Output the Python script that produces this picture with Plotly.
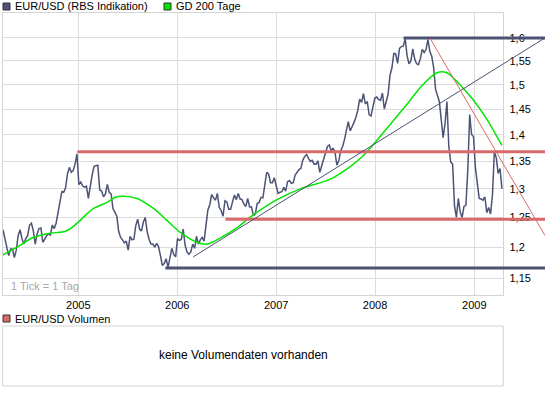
import plotly.graph_objects as go
import pandas as pd
import numpy as np

W, H = 545, 395

# ---------------- data ----------------
price_start = "2004-03-29"   # weekly values from here on
price_2004 = [1.229,
              1.213, 1.199, 1.186, 1.197,
              1.197, 1.183, 1.195, 1.219, 1.229,
              1.214, 1.205, 1.214, 1.219,
              1.237, 1.240, 1.227, 1.205,
              1.222, 1.231, 1.232, 1.208, 1.213,
              1.219, 1.222, 1.220, 1.237,
              1.231, 1.240, 1.255, 1.276,
              1.295, 1.294, 1.302, 1.327, 1.339,
              1.330, 1.333, 1.345, 1.364]
price_2005 = [1.308, 1.312, 1.305, 1.303, 1.305,
              1.283, 1.307, 1.325, 1.341,
              1.342, 1.343, 1.298, 1.296,
              1.286, 1.291, 1.308, 1.294,
              1.291, 1.265, 1.259, 1.252, 1.226,
              1.216, 1.212, 1.207, 1.210,
              1.195, 1.218, 1.212, 1.213,
              1.236, 1.247, 1.230, 1.227, 1.242,
              1.250, 1.226, 1.213, 1.205,
              1.205, 1.200, 1.206, 1.201, 1.186,
              1.170, 1.173, 1.181, 1.167,
              1.180, 1.198, 1.188, 1.184]
price_2006 = [1.214, 1.211, 1.213, 1.230, 1.203,
              1.192, 1.188, 1.192, 1.205,
              1.198, 1.218, 1.205, 1.212,
              1.216, 1.210, 1.233, 1.263,
              1.272, 1.290, 1.284, 1.280, 1.292,
              1.267, 1.262, 1.252, 1.279,
              1.277, 1.264, 1.264, 1.277, 1.289,
              1.281, 1.292, 1.282, 1.281,
              1.273, 1.269, 1.283, 1.268,
              1.268, 1.253, 1.256, 1.274, 1.276,
              1.285, 1.284, 1.311, 1.330,
              1.327, 1.311, 1.311, 1.320]
price_2007 = [1.306, 1.292, 1.294, 1.295, 1.303,
              1.296, 1.313, 1.315, 1.310,
              1.311, 1.325, 1.331, 1.335,
              1.337, 1.352, 1.359, 1.363, 1.356,
              1.350, 1.352, 1.345, 1.345,
              1.351, 1.330, 1.342, 1.354,
              1.362, 1.378, 1.381, 1.370, 1.375,
              1.367, 1.343, 1.351, 1.370,
              1.378, 1.391, 1.406, 1.426,
              1.408, 1.418, 1.424, 1.434, 1.448,
              1.471, 1.464, 1.482, 1.461,
              1.466, 1.440, 1.437, 1.457, 1.473]
price_2008 = [1.475, 1.470, 1.468, 1.483,
              1.451, 1.468, 1.481, 1.520,
              1.535, 1.566, 1.565, 1.545, 1.577,
              1.581, 1.582, 1.598, 1.561,
              1.544, 1.550, 1.576, 1.554,
              1.544, 1.542, 1.555, 1.575, 1.568,
              1.575, 1.596, 1.570, 1.560,
              1.536, 1.491, 1.477, 1.466,
              1.430, 1.395, 1.422, 1.466, 1.378,
              1.349, 1.345, 1.270, 1.250,
              1.283, 1.259, 1.250, 1.269,
              1.271, 1.334, 1.440, 1.401, 1.397]
price_2009 = [1.339, 1.315, 1.283, 1.282,
              1.280, 1.286, 1.258, 1.267,
              1.256, 1.289, 1.368, 1.357, 1.328,
              1.337, 1.300]

ma_dates = ["2004-03-28", "2004-05-20", "2004-07-18", "2004-09-19", "2004-11-13",
            "2004-12-09", "2005-01-08", "2005-02-25", "2005-04-17", "2005-05-17",
            "2005-06-16", "2005-08-06", "2005-10-04", "2005-11-24", "2006-01-11",
            "2006-03-15", "2006-04-21", "2006-06-08", "2006-08-09", "2006-09-26",
            "2007-01-01", "2007-03-31", "2007-07-18", "2007-09-30", "2007-11-17",
            "2008-01-08", "2008-02-25", "2008-04-27", "2008-06-25", "2008-08-16",
            "2008-09-22", "2008-11-09", "2008-12-27", "2009-02-17", "2009-04-13"]
ma_values = [1.187, 1.200, 1.216, 1.223, 1.226,
             1.233, 1.245, 1.265, 1.276, 1.285,
             1.287, 1.283, 1.266, 1.245, 1.225,
             1.208, 1.205, 1.215, 1.232, 1.250,
             1.280, 1.300, 1.317, 1.340, 1.360,
             1.390, 1.420, 1.460, 1.500, 1.525,
             1.525, 1.500, 1.470, 1.430, 1.380]

# horizontal support / resistance lines (start date, level)
red_level_starts = ["2004-12-28", "2006-06-28"]
red_level_values = [1.368, 1.247]
blue_level_starts = ["2005-11-18", "2008-04-15"]
blue_level_values = [1.166, 1.600]
# trend lines
blue_trend_dates = ["2006-03-01", "2009-09-19"]
blue_trend_values = [1.184, 1.600]
red_trend_dates = ["2008-07-22", "2009-09-19"]
red_trend_values = [1.599, 1.219]

year_ticks = ["2005-01-01", "2006-01-01", "2007-01-01", "2008-01-01", "2009-01-01"]
year_labels = ["2005", "2006", "2007", "2008", "2009"]
y_ticks = [1.15, 1.2, 1.25, 1.3, 1.35, 1.4, 1.45, 1.5, 1.55, 1.6]
y_labels = ["1,15", "1,2", "1,25", "1,3", "1,35", "1,4", "1,45", "1,5", "1,55", "1,6"]

# ---------------- geometry ----------------
FONT = "Liberation Sans"
PLOT_L, PLOT_R, PLOT_T, PLOT_B = 2.7, 503.3, 13.3, 295.0
x_start = pd.Timestamp("2004-03-28")
x_end = pd.Timestamp("2009-04-18")
x2_end = x_start + (x_end - x_start) * ((W - PLOT_L) / (PLOT_R - PLOT_L))
y_range = [float(np.log10(1.1235)), float(np.log10(1.655))]


def px(x):
    return x / W


def py(y):
    return 1 - y / H


price_values = price_2004 + price_2005 + price_2006 + price_2007 + price_2008 + price_2009
price_dates = pd.date_range(price_start, periods=len(price_values), freq="7D")

PRICE_COL = "#4c5376"
GREEN = "#00e600"
RED = "#d96a6a"
DARKBLUE = "#4b5272"
GRID = "#dcdcdc"

fig = go.Figure()
fig.add_trace(go.Scatter(x=price_dates, y=price_values, mode="lines",
                         line=dict(color=PRICE_COL, width=1.5), xaxis="x", yaxis="y",
                         hoverinfo="skip"))
fig.add_trace(go.Scatter(x=pd.to_datetime(ma_dates), y=ma_values, mode="lines",
                         line=dict(color=GREEN, width=1.5, shape="spline", smoothing=0.8),
                         xaxis="x", yaxis="y", hoverinfo="skip"))

# lines on a wider overlay subplot (they run past the price axis)
for d, v in zip(red_level_starts, red_level_values):
    fig.add_trace(go.Scatter(x=[d, "2010-06-30"], y=[v, v], mode="lines",
                             line=dict(color=RED, width=3), xaxis="x2", yaxis="y2",
                             hoverinfo="skip"))
for d, v in zip(blue_level_starts, blue_level_values):
    fig.add_trace(go.Scatter(x=[d, "2010-06-30"], y=[v, v], mode="lines",
                             line=dict(color=DARKBLUE, width=3), xaxis="x2", yaxis="y2",
                             hoverinfo="skip"))
fig.add_trace(go.Scatter(x=blue_trend_dates, y=blue_trend_values, mode="lines",
                         line=dict(color=DARKBLUE, width=1), xaxis="x2", yaxis="y2",
                         hoverinfo="skip"))
fig.add_trace(go.Scatter(x=red_trend_dates, y=red_trend_values, mode="lines",
                         line=dict(color=RED, width=1), xaxis="x2", yaxis="y2",
                         hoverinfo="skip"))

ydom = [py(PLOT_B), py(PLOT_T)]
fig.update_layout(
    width=W, height=H, margin=dict(l=0, r=0, t=0, b=0),
    paper_bgcolor="white", plot_bgcolor="rgba(0,0,0,0)", showlegend=False,
    font=dict(family=FONT, size=11, color="#000000"),
    xaxis=dict(domain=[px(PLOT_L), px(PLOT_R)], type="date",
               range=[x_start, x_end], tickvals=year_ticks, ticktext=year_labels,
               showgrid=True, gridcolor=GRID, gridwidth=1, showline=True, mirror=True,
               linecolor="#d4d4d4", linewidth=1, ticks="", zeroline=False,
               tickfont=dict(size=11, family=FONT, color="#000"), anchor="y",
               fixedrange=True),
    yaxis=dict(domain=ydom, type="log", range=y_range, side="right",
               tickvals=y_ticks, ticktext=y_labels, showgrid=True, gridcolor=GRID,
               gridwidth=1, showline=True, mirror=True, linecolor="#d4d4d4",
               linewidth=1, ticks="", zeroline=False, ticklabelstandoff=3,
               tickfont=dict(size=11, family=FONT, color="#000"), anchor="x",
               fixedrange=True),
    xaxis2=dict(domain=[px(PLOT_L), 1.0], type="date", range=[x_start, x2_end],
                visible=False, anchor="y2", fixedrange=True),
    yaxis2=dict(domain=ydom, type="log", range=y_range, visible=False,
                anchor="x2", fixedrange=True),
)

shapes = []
annotations = []
# legend squares (top)
shapes.append(dict(type="rect", xref="paper", yref="paper",
                   x0=px(3), x1=px(10), y0=py(10), y1=py(3),
                   fillcolor=PRICE_COL, line=dict(color="#333333", width=1)))
annotations.append(dict(xref="paper", yref="paper", x=px(13), y=py(6.5),
                        xanchor="left", yanchor="middle", showarrow=False,
                        text="EUR/USD (RBS Indikation)",
                        font=dict(family=FONT, size=11, color="#000")))
shapes.append(dict(type="rect", xref="paper", yref="paper",
                   x0=px(164), x1=px(171), y0=py(10), y1=py(3),
                   fillcolor=GREEN, line=dict(color="#333333", width=1)))
annotations.append(dict(xref="paper", yref="paper", x=px(174), y=py(6.5),
                        xanchor="left", yanchor="middle", showarrow=False,
                        text="GD 200 Tage",
                        font=dict(family=FONT, size=11, color="#000")))
# tick note
annotations.append(dict(xref="paper", yref="paper", x=px(9), y=py(286),
                        xanchor="left", yanchor="middle", showarrow=False,
                        text="1 Tick = 1 Tag",
                        font=dict(family=FONT, size=11, color="#a8a8a8")))
# volume panel
shapes.append(dict(type="rect", xref="paper", yref="paper",
                   x0=px(3), x1=px(10), y0=py(322), y1=py(315),
                   fillcolor=RED, line=dict(color="#333333", width=1)))
annotations.append(dict(xref="paper", yref="paper", x=px(13), y=py(318.5),
                        xanchor="left", yanchor="middle", showarrow=False,
                        text="EUR/USD Volumen",
                        font=dict(family=FONT, size=11, color="#000")))
shapes.append(dict(type="rect", xref="paper", yref="paper",
                   x0=px(PLOT_L), x1=px(PLOT_R), y0=py(386), y1=py(326),
                   fillcolor="rgba(0,0,0,0)", line=dict(color="#d4d4d4", width=1)))
annotations.append(dict(xref="paper", yref="paper", x=px(243), y=py(355),
                        xanchor="center", yanchor="middle", showarrow=False,
                        text="keine Volumendaten vorhanden",
                        font=dict(family=FONT, size=12, color="#000")))

fig.update_layout(shapes=shapes, annotations=annotations)
fig.write_html("out.html",
               config={"displayModeBar": False, "staticPlot": True},
               post_script="document.body.style.margin='0';document.body.style.padding='0';")
